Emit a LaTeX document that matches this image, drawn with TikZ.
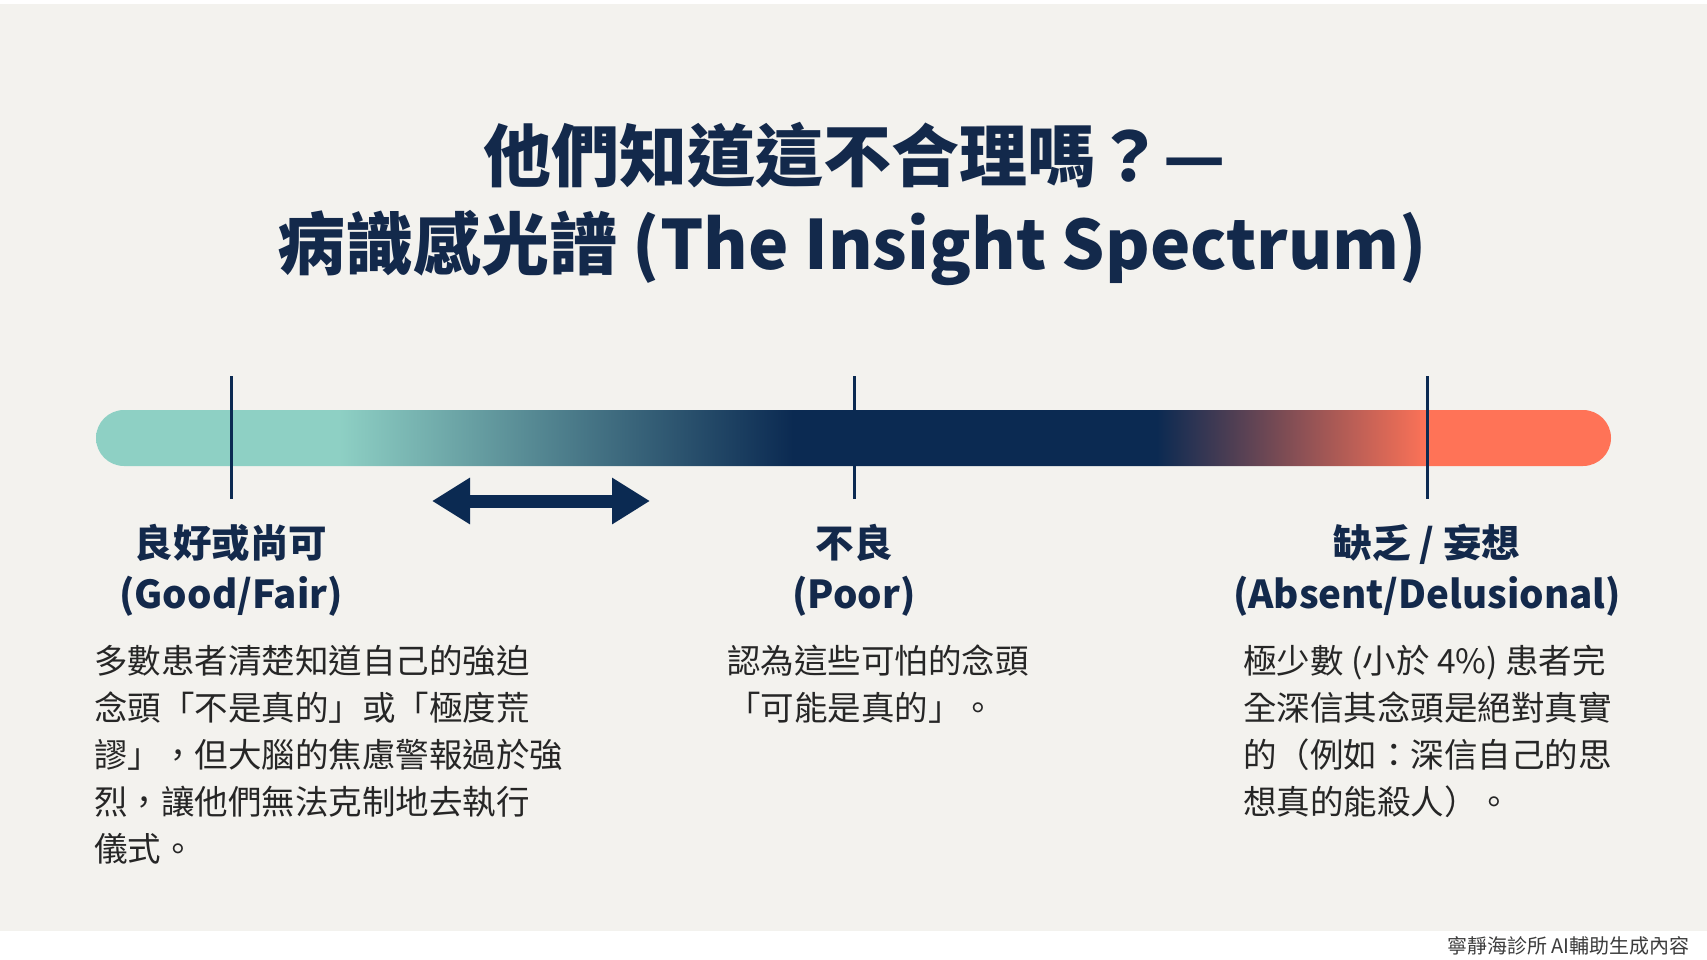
\documentclass[tikz,border=0pt]{standalone}
\usepackage{fontspec}
\setmainfont{Noto Sans CJK TC}
\usetikzlibrary{positioning,arrows.meta}
\definecolor{bgpaper}{HTML}{F3F2EE}
\definecolor{inknavy}{HTML}{13294B}
\definecolor{barteal}{HTML}{8ED0C4}
\definecolor{barnavy}{HTML}{0B2A52}
\definecolor{barcoral}{HTML}{FF7357}
\definecolor{footgray}{HTML}{3C3C3C}
% 100bp wide, inner 25bp--75bp fills the bar
\pgfdeclarehorizontalshading{insight}{100bp}{color(0bp)=(barteal); color(33bp)=(barteal); color(48bp)=(barnavy); color(60bp)=(barnavy); color(69bp)=(barcoral); color(100bp)=(barcoral)}

\begin{document}
\begin{tikzpicture}[
    x=1pt, y=-1pt,
    ttl/.style={font=\fontsize{68}{90}\selectfont\bfseries, text=inknavy, inner sep=0pt},
    bar/.style={minimum width=1515pt, minimum height=56pt, rounded corners=28pt, shading=insight, inner sep=0pt},
    tickline/.style={line width=3pt, draw=barnavy},
    lvl/.style={font=\fontsize{38.5}{51}\selectfont\bfseries, text=inknavy, align=center, inner sep=0pt, anchor=north},
    desc/.style={font=\fontsize{33.5}{47}\selectfont, text=black!85, align=left, inner sep=0pt, anchor=north west},
    dblarrow/.style={{Triangle[length=38pt,width=44pt]}-{Triangle[length=38pt,width=44pt]}, line width=13pt, draw=barnavy},
]
\useasboundingbox (0,0) rectangle (1707,960);
\fill[bgpaper] (0,0) rectangle (1707,960);
\fill[white] (0,931) rectangle (1707,960);
\fill[white] (0,0) rectangle (1707,4);

% title
\node[ttl] (ttl1) at (855,155) {他們知道這不合理嗎？—};
\node[ttl] (ttl2) at (852,248) {病識感光譜 (The Insight Spectrum)};

% spectrum bar
\node[bar] (bar) at (853.5,438) {};
\foreach \n/\x in {good/231,poor/854,absent/1427}{
  \coordinate (\n top) at (\x,376);
  \coordinate (\n bot) at (\x,499);
  \draw[tickline] (\n top) -- (\n bot);
}

% double arrow under the bar
\coordinate (arrL) at (432,501);
\coordinate (arrR) at (650,501);
\draw[dblarrow] (arrL) -- (arrR);

% levels
\node[lvl] (goodlbl) at (231,524) {良好或尚可\\(Good/Fair)};
\node[lvl] (poorlbl) at (854,524) {不良\\(Poor)};
\node[lvl] (absentlbl) at (1427,524) {缺乏 / 妄想\\(Absent/Delusional)};

% descriptions
\node[desc] (gooddesc) at (94,645) {多數患者清楚知道自己的強迫\\念頭「不是真的」或「極度荒\\謬」，但大腦的焦慮警報過於強\\烈，讓他們無法克制地去執行\\儀式。};
\node[desc] (poordesc) at (727,645) {認為這些可怕的念頭\\「可能是真的」。};
\node[desc] (absentdesc) at (1243,645) {極少數 (小於 4\%) 患者完\\全深信其念頭是絕對真實\\的（例如：深信自己的思\\想真的能殺人）。};

\node[anchor=east, font=\fontsize{20}{22}\selectfont, text=footgray, inner sep=0pt] (credit) at (1690,946) {寧靜海診所 AI輔助生成內容};
\end{tikzpicture}
\end{document}
